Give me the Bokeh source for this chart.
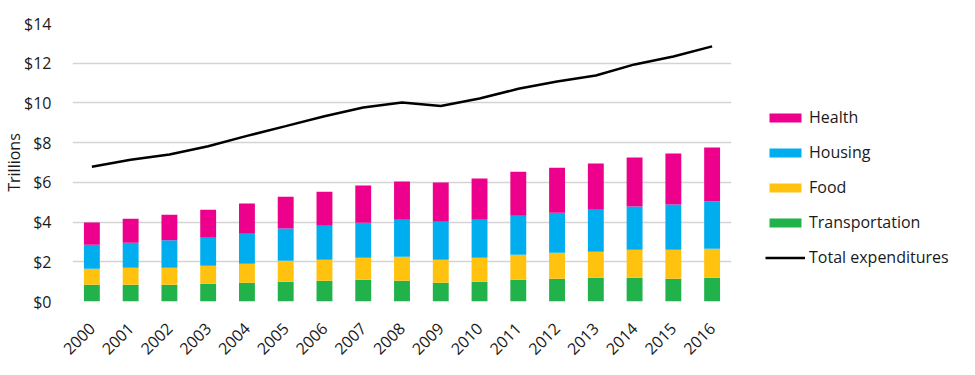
import math
from bokeh.plotting import figure
from bokeh.models import ColumnDataSource, FactorRange, Range1d, FixedTicker, NumeralTickFormatter, Legend, LegendItem
from bokeh.embed import file_html
from bokeh.resources import INLINE

years = [str(y) for y in range(2000, 2017)]
transportation = [0.84, 0.84, 0.84, 0.89, 0.94, 0.99, 1.04, 1.09, 1.04, 0.94, 0.99, 1.09, 1.14, 1.20, 1.20, 1.14, 1.20]
food = [0.81, 0.86, 0.86, 0.91, 0.96, 1.06, 1.06, 1.11, 1.21, 1.16, 1.21, 1.27, 1.32, 1.31, 1.41, 1.47, 1.46]
housing = [1.21, 1.26, 1.38, 1.41, 1.51, 1.62, 1.72, 1.77, 1.87, 1.92, 1.92, 1.96, 2.01, 2.11, 2.17, 2.27, 2.37]
health = [1.12, 1.21, 1.29, 1.41, 1.52, 1.61, 1.71, 1.87, 1.92, 1.97, 2.07, 2.22, 2.27, 2.33, 2.47, 2.57, 2.72]
total = [6.79, 7.14, 7.40, 7.82, 8.34, 8.83, 9.33, 9.77, 10.02, 9.85, 10.22, 10.71, 11.08, 11.38, 11.94, 12.34, 12.85]
y_ticks = [0, 2, 4, 6, 8, 10, 12, 14]

series = ["transportation", "food", "housing", "health"]
colors = ["#22B24C", "#FFC20E", "#00AEEF", "#EC008C"]
labels = ["Transportation", "Food", "Housing", "Health"]

src = ColumnDataSource(dict(years=years, transportation=transportation, food=food,
                            housing=housing, health=health, total=total))

FONT = "Open Sans"
TXT = "#1a1a1a"
p = figure(frame_width=659, frame_height=278, x_range=FactorRange(*years, range_padding=0),
           y_range=Range1d(0, 14), output_backend="svg", toolbar_location=None,
           min_border_left=40, min_border_top=23, min_border_bottom=58, min_border_right=10)
p.outline_line_color = None

renderers = p.vbar_stack(series, x="years", width=0.41, color=colors, source=src, line_color=None)
line = p.line(x="years", y="total", source=src, line_color="black", line_width=2.5)

p.yaxis.ticker = FixedTicker(ticks=y_ticks)
p.yaxis.formatter = NumeralTickFormatter(format="$0")
p.yaxis.axis_label = "Trillions"
for ax in (p.xaxis[0], p.yaxis[0]):
    ax.axis_line_color = None
    ax.major_tick_line_color = None
    ax.minor_tick_line_color = None
    ax.major_label_text_font = FONT
    ax.major_label_text_font_size = "16px"
    ax.major_label_text_color = TXT
    ax.axis_label_text_font = FONT
    ax.axis_label_text_font_size = "16px"
    ax.axis_label_text_font_style = "normal"
    ax.axis_label_text_color = TXT
p.yaxis.major_label_standoff = 15
p.yaxis.axis_label_standoff = -4
p.xaxis.major_label_orientation = math.pi / 4
p.xaxis.major_label_standoff = 18
p.xgrid.grid_line_color = None
p.ygrid.grid_line_color = "#D4D4D4"
p.ygrid.grid_line_width = 1.5

items = [LegendItem(label=labels[i], renderers=[renderers[i]]) for i in [3, 2, 1, 0]]
items.append(LegendItem(label="Total expenditures", renderers=[line]))
legend = Legend(items=items, location=(34, 33), border_line_color=None,
                background_fill_alpha=0, padding=0, margin=0, spacing=13,
                glyph_width=40, glyph_height=11, label_height=11, label_standoff=4,
                label_text_font=FONT, label_text_font_size="16px", label_text_color=TXT)
p.add_layout(legend, "right")

open("out.html", "w").write(file_html(p, INLINE))
